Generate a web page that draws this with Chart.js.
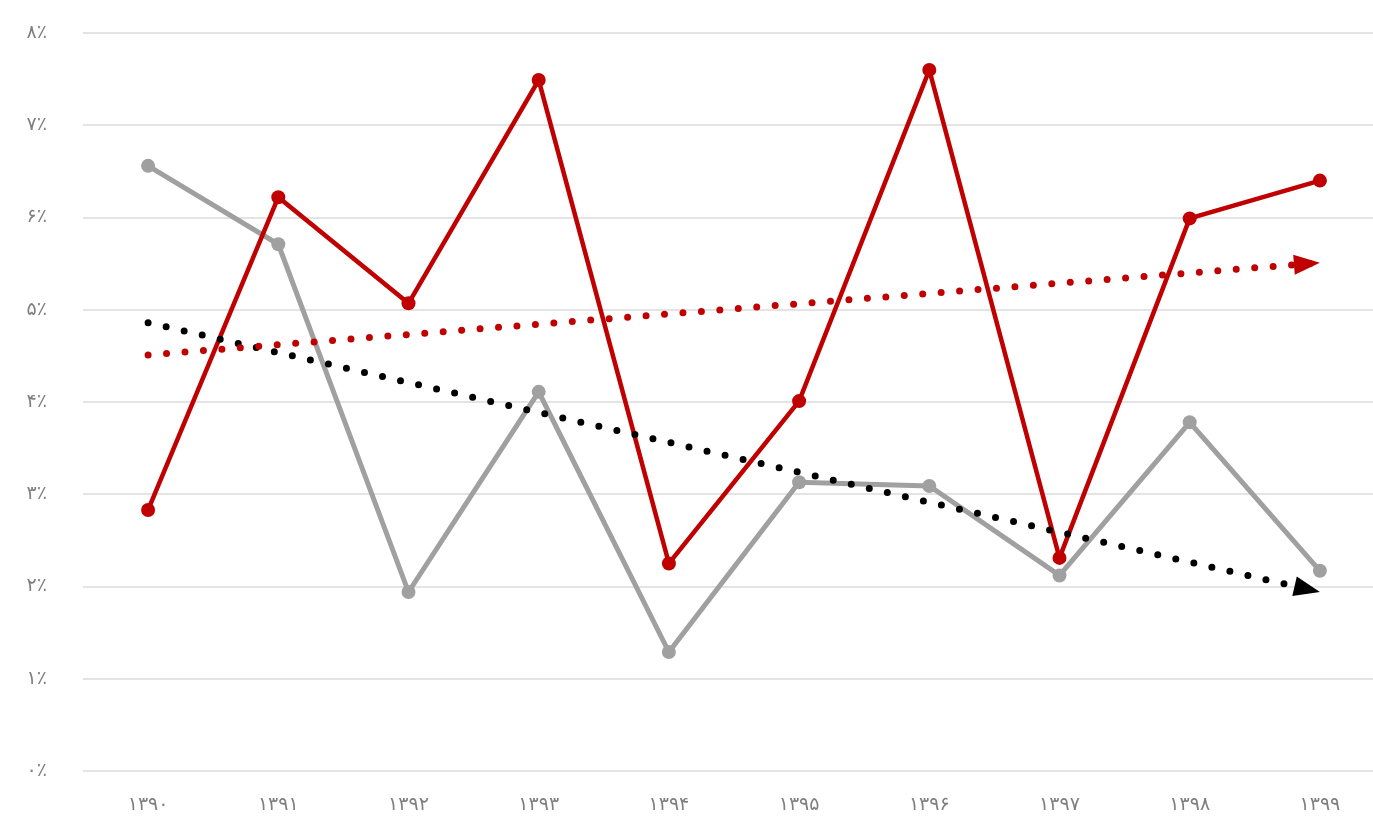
<!DOCTYPE html>
<html>
<head>
<meta charset="utf-8">
<script src="https://cdn.jsdelivr.net/npm/chart.js@4.4.0/dist/chart.umd.min.js"></script>
<style>
html,body{margin:0;padding:0;background:#fff;overflow:hidden;}
#wrap{position:absolute;left:0;top:0;width:1392px;height:823px;}
</style>
</head>
<body>
<div id="wrap"><canvas id="c"></canvas></div>
<script>
const categories = ['۱۳۹۰','۱۳۹۱','۱۳۹۲','۱۳۹۳','۱۳۹۴','۱۳۹۵','۱۳۹۶','۱۳۹۷','۱۳۹۸','۱۳۹۹'];
const redSeries  = [2.83, 6.22, 5.07, 7.49, 2.25, 4.01, 7.60, 2.31, 5.99, 6.40];
const graySeries = [6.56, 5.71, 1.94, 4.11, 1.29, 3.13, 3.09, 2.12, 3.78, 2.17];
const redTrend   = [4.51, 5.51];   // start (۱۳۹۰) and end (۱۳۹۹)
const grayTrend  = [4.86, 1.94];
const yTickLabels = ['۰٪','۱٪','۲٪','۳٪','۴٪','۵٪','۶٪','۷٪','۸٪'];

const RED = '#C00000', GRAY = '#A0A0A0';

const arrowPlugin = {
  id: 'arrows',
  afterDatasetsDraw(chart) {
    const ctx = chart.ctx;
    chart.data.datasets.forEach((ds, i) => {
      if (!ds.arrow) return;
      const meta = chart.getDatasetMeta(i);
      const pts = meta.data;
      const a = pts[0], b = pts[pts.length - 1];
      const ang = Math.atan2(b.y - a.y, b.x - a.x);
      const L = 26, H = 10;
      ctx.save();
      ctx.translate(b.x, b.y);
      ctx.rotate(ang);
      ctx.beginPath();
      ctx.moveTo(0, 0);
      ctx.lineTo(-L, -H);
      ctx.lineTo(-L, H);
      ctx.closePath();
      ctx.fillStyle = ds.borderColor;
      ctx.fill();
      ctx.restore();
    });
  }
};

new Chart(document.getElementById('c'), {
  type: 'line',
  data: {
    labels: categories,
    datasets: [
      {
        data: [{x: categories[0], y: redTrend[0]}, {x: categories[categories.length-1], y: redTrend[1]}],
        borderColor: RED, borderWidth: 7, borderDash: [0, 18.5], borderCapStyle: 'round',
        pointRadius: 0, fill: false, arrow: true
      },
      {
        data: [{x: categories[0], y: grayTrend[0]}, {x: categories[categories.length-1], y: grayTrend[1]}],
        borderColor: '#000000', borderWidth: 7, borderDash: [0, 18.5], borderCapStyle: 'round',
        pointRadius: 0, fill: false, arrow: true
      },
      {
        data: redSeries, borderColor: RED, backgroundColor: RED, borderWidth: 4.5,
        pointRadius: 7, pointBackgroundColor: RED, pointBorderWidth: 0, tension: 0
      },
      {
        data: graySeries, borderColor: GRAY, backgroundColor: GRAY, borderWidth: 5,
        pointRadius: 7, pointBackgroundColor: GRAY, pointBorderWidth: 0, tension: 0
      }
    ]
  },
  options: {
    responsive: true,
    maintainAspectRatio: false,
    animation: false,
    devicePixelRatio: 1,
    layout: { padding: { top: 33, right: 0, left: 0, bottom: 0 } },
    plugins: { legend: { display: false }, tooltip: { enabled: false } },
    scales: {
      x: {
        type: 'category',
        offset: true,
        grid: { display: false, drawTicks: false },
        border: { display: false },
        afterFit(s) { s.height = 52; s.paddingLeft = 0; s.paddingRight = 0; },
        ticks: { color: '#7f7f7f', font: { family: 'DejaVu Sans', size: 19 }, padding: 23, maxRotation: 0 }
      },
      y: {
        min: 0, max: 8,
        afterFit(s) { s.width = 83; s.paddingTop = 0; s.paddingBottom = 0; },
        grid: { color: '#e4e4e4', lineWidth: 2, drawTicks: false },
        border: { display: false },
        ticks: {
          stepSize: 1, padding: 36, color: '#7f7f7f',
          font: { family: 'DejaVu Sans', size: 19 },
          callback: (v) => yTickLabels[v]
        }
      }
    }
  },
  plugins: [arrowPlugin]
});
</script>
</body>
</html>
